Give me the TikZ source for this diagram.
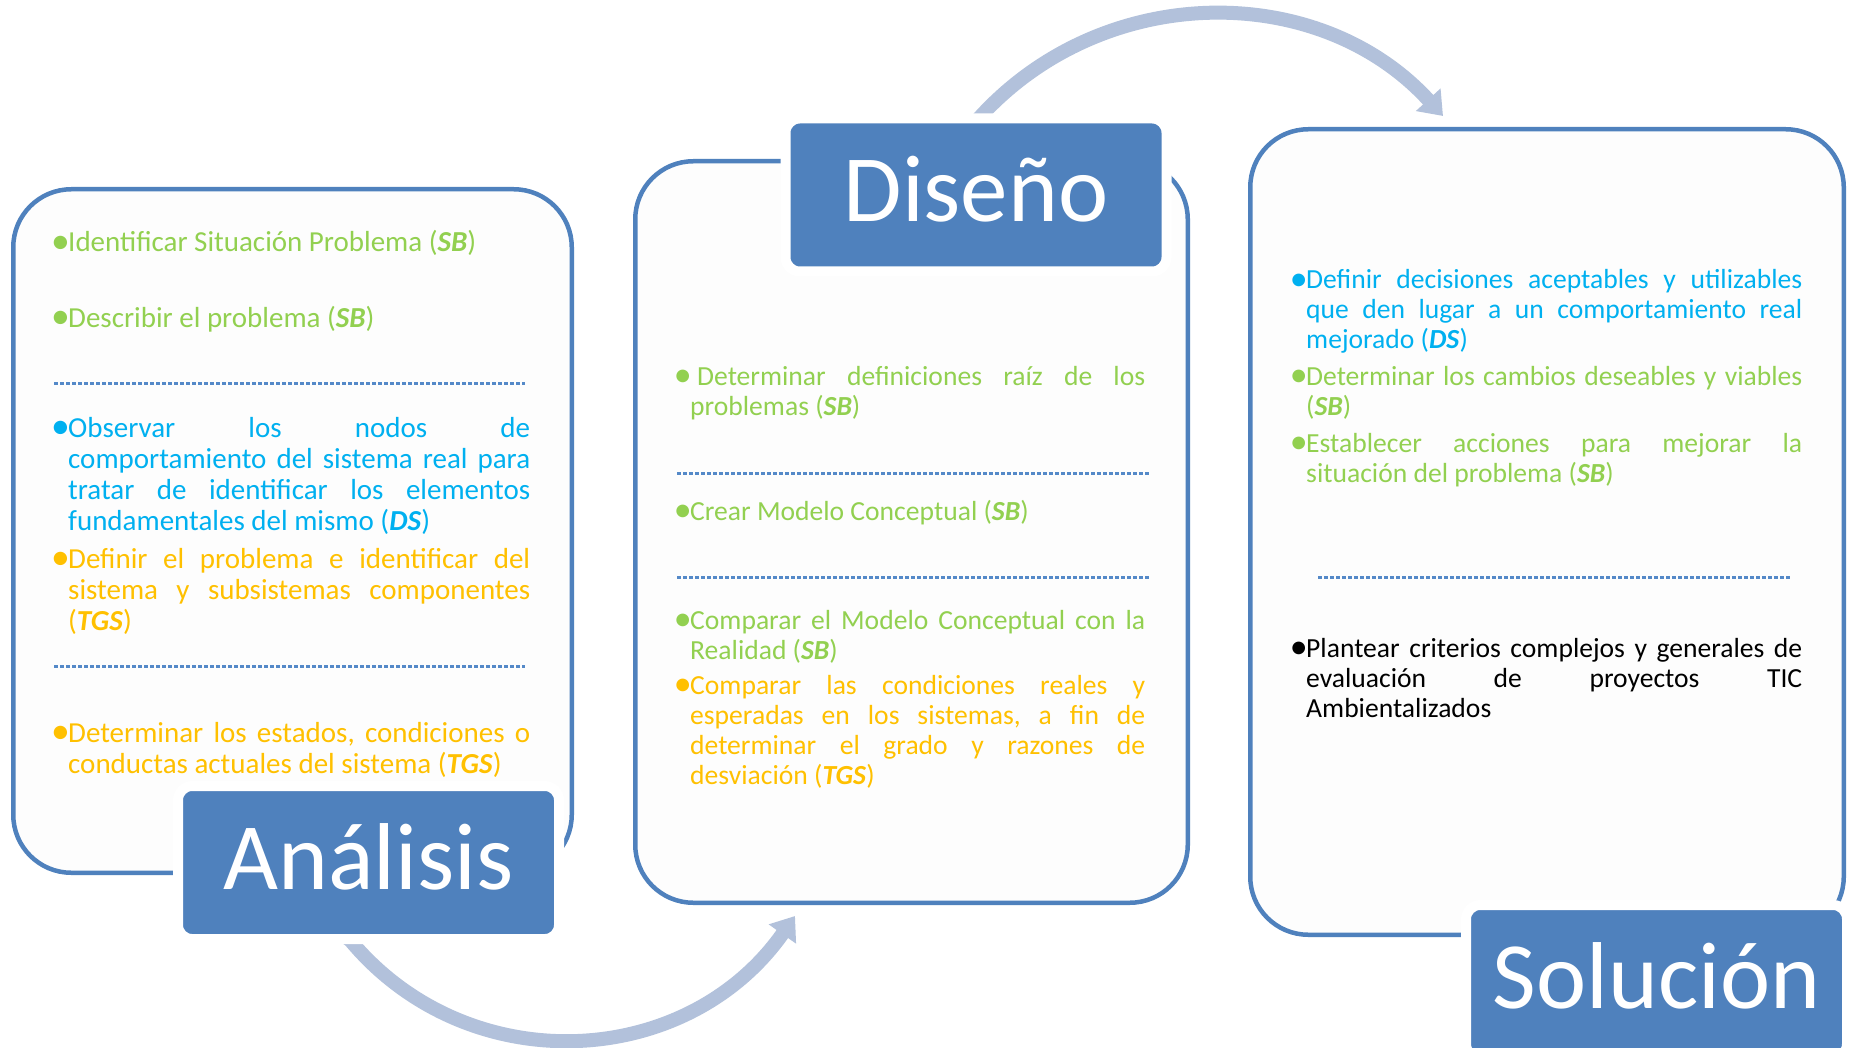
\documentclass[tikz,border=0pt]{standalone}
\usepackage{fontspec}
\setmainfont{Carlito}
\usetikzlibrary{arrows.meta,calc}
\definecolor{boxblue}{RGB}{79,129,189}
\definecolor{boxfill}{RGB}{253,253,253}
\definecolor{arcblue}{RGB}{178,193,219}
\definecolor{dotblue}{RGB}{84,137,200}
\definecolor{tgreen}{RGB}{146,208,80}
\definecolor{tblue}{RGB}{0,176,240}
\definecolor{torange}{RGB}{255,192,0}
\newcommand\bul{\leavevmode\llap{\makebox[0.59em][l]{\raisebox{-0.05em}{\scalebox{1.3}{•}}}}}
\newcommand\bi[1]{\textbf{\textit{#1}}}
\begin{document}
\begin{tikzpicture}[x=1pt,y=-1pt,
  bigbox/.style={draw=boxblue, line width=4.5pt, fill=boxfill, rounded corners=58pt, inner sep=0pt},
  lab/.style={draw=white, line width=10pt, fill=boxblue, rounded corners=14pt, text=white,
    font=\fontsize{95}{95}\selectfont, minimum width=381pt, minimum height=153pt,
    text height=53pt, text depth=0pt, inner sep=0pt},
  flow/.style={draw=arcblue, line width=14pt, -{Triangle[width=32pt,length=22pt]}},
  sepline/.style={draw=dotblue, line width=3pt, dash pattern=on 3.5pt off 2.5pt},
  ptxt/.style={anchor=base west, inner sep=0pt, align=justify,
    font=\fontsize{27.6}{30}\selectfont,
    execute at begin node={\hyphenpenalty=10000 \tolerance=10000 \emergencystretch=0pt}},
  ltxt/.style={ptxt, font=\fontsize{29}{31}\selectfont},
]
\useasboundingbox (0,0) rectangle (1851,1048);
\clip (0,0) rectangle (1851,1048);
\fill[white] (0,0) rectangle (1851,1048);

% big boxes
\node[bigbox, minimum width=558.5pt, minimum height=683.5pt] (boxA) at (292.5,531) {};
\node[bigbox, minimum width=552.5pt, minimum height=741.5pt] (boxD) at (911.5,532) {};
\node[bigbox, minimum width=593.5pt, minimum height=805.5pt] (boxS) at (1547,532) {};

% separators
\draw[sepline] (54,383) -- (525,383);
\draw[sepline] (54,666) -- (525,666);
\draw[sepline] (677,473) -- (1149,473);
\draw[sepline] (677,577) -- (1149,577);
\draw[sepline] (1318,577) -- (1790,577);

% left box text
\node[ltxt, text width=462pt, text=tgreen] (la1) at (68,252) {\bul Identificar Situación Problema (\bi{SB})};
\node[ltxt, text width=462pt, text=tgreen] (la2) at (68,327) {\bul Describir el problema (\bi{SB})};
\node[ltxt, text width=462pt, text=tblue] (la3) at (68,437) {\bul Observar~los~nodos~de\linebreak comportamiento~del~sistema~real~para\linebreak tratar~de~identificar~los~elementos\linebreak fundamentales~del~mismo~(\bi{DS})};
\node[ltxt, text width=462pt, text=torange] (la4) at (68,568) {\bul Definir~el~problema~e~identificar~del\linebreak sistema~y~subsistemas~componentes\linebreak (\bi{TGS})};
\node[ltxt, text width=462pt, text=torange] (la5) at (68,742) {\bul Determinar~los~estados,~condiciones~o\linebreak conductas~actuales~del~sistema~(\bi{TGS})};

% middle box text
\node[ptxt, text width=455pt, text=tgreen] (md1) at (690,385) {\bul\hspace{7pt}Determinar~definiciones~raíz~de~los\linebreak problemas~(\bi{SB})};
\node[ptxt, text width=455pt, text=tgreen] (md2) at (690,520) {\bul Crear Modelo Conceptual (\bi{SB})};
\node[ptxt, text width=455pt, text=tgreen] (md3) at (690,629) {\bul Comparar~el~Modelo~Conceptual~con~la\linebreak Realidad~(\bi{SB})};
\node[ptxt, text width=455pt, text=torange] (md4) at (690,694) {\bul Comparar~las~condiciones~reales~y\linebreak esperadas~en~los~sistemas,~a~fin~de\linebreak determinar~el~grado~y~razones~de\linebreak desviación~(\bi{TGS})};

% right box text
\node[ptxt, text width=496pt, text=tblue] (rs1) at (1306,289) {\bul Definir~decisiones~aceptables~y~utilizables\linebreak que~den~lugar~a~un~comportamiento~real\linebreak mejorado~(\bi{DS})};
\node[ptxt, text width=496pt, text=tgreen] (rs2) at (1306,385) {\bul Determinar~los~cambios~deseables~y~viables\linebreak (\bi{SB})};
\node[ptxt, text width=496pt, text=tgreen] (rs3) at (1306,452) {\bul Establecer~acciones~para~mejorar~la\linebreak situación~del~problema~(\bi{SB})};
\node[ptxt, text width=496pt, text=black] (rs4) at (1306,657) {\bul Plantear~criterios~complejos~y~generales~de\linebreak evaluación~de~proyectos~TIC\linebreak Ambientalizados};

% label positions (anchors for the arcs)
\path (368.5,862.5) node[lab, draw=none, fill=none] (anal) {\phantom{Análisis}};
\path (976,195) node[lab, draw=none, fill=none] (dis) {\phantom{Diseño}};

% arcs
\coordinate (a1s) at ($(anal.south)+(-27.5,-10)$);
\coordinate (a1e) at ($(boxD.south)+(-116.5,11)$);
\coordinate (a2s) at ($(dis.north)+(-5.4,13.8)$);
\coordinate (a2e) at ($(boxS.north)+(-104,-11)$);
\draw[flow] (a1s) -- (350,940) .. controls (467,1081) and (686,1071) .. (a1e);
\draw[flow] (a2s) -- (980,117) .. controls (1104,-18.8) and (1319,-19.8) .. (a2e);

% labels drawn on top
\node[lab] (analL) at (anal) {Análisis};
\node[lab] (disL) at (dis) {Diseño};
\node[lab] (sol) at (1656.5,981.5) {Solución};
\end{tikzpicture}
\end{document}
